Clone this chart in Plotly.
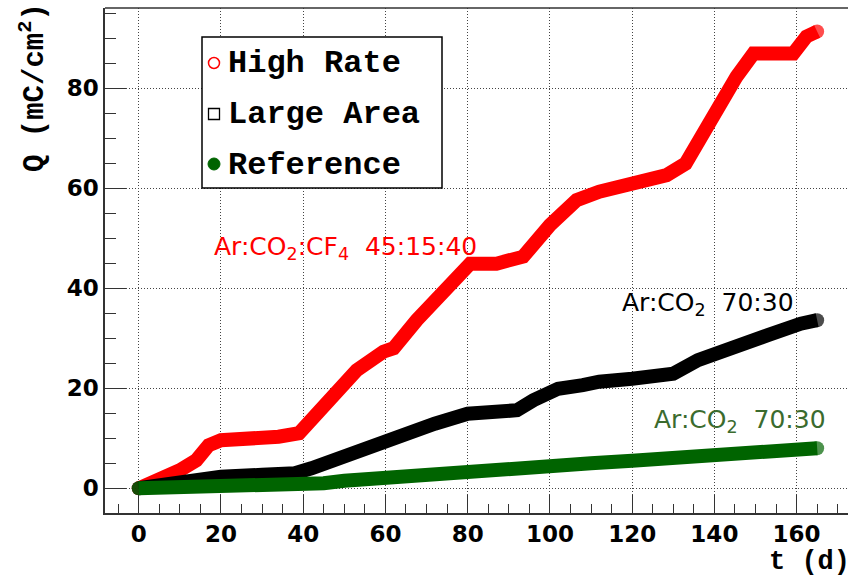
import plotly.graph_objects as go

# ---------------- data ----------------
t_high = [0, 3, 7, 10, 14, 17, 20, 26, 34, 39, 43, 45, 50, 53, 59.5, 62, 67.6, 75.7,
          80.6, 87, 93.5, 100, 106.5, 112, 120, 128.4, 133, 135.7, 139.7, 142.2,
          145.4, 149.5, 159.2, 162.4, 165]
q_high = [0, 1, 2, 3.6, 5.6, 8.6, 9.6, 9.8, 10.3, 11, 14.5, 17, 20.8, 23.6, 27.3, 28,
          33.6, 40.6, 44.9, 44.9, 46.3, 52.6, 57.6, 59.3, 60.9, 62.6, 64.9, 68.9,
          74.9, 77.3, 82.3, 86.9, 86.9, 90.3, 91.3]

t_large = [0, 5, 10, 15, 20, 30, 38, 42, 47, 53, 60, 66, 72, 80, 86, 92, 96, 102,
           108, 112, 120, 130, 136, 145, 153, 161, 165]
q_large = [0, 0.6, 1.4, 2.0, 2.3, 2.7, 3.0, 4.0, 5.6, 7.3, 9.4, 11.0, 12.9, 14.9,
           15.0, 15.6, 17.6, 19.9, 20.6, 21.3, 21.9, 22.9, 25.6, 27.9, 30.6, 32.9, 33.6]

t_ref = [0, 10, 20, 30, 40, 45, 50, 60, 70, 80, 90, 100, 110, 120, 130, 140, 150, 160, 165]
q_ref = [0, 0.1, 0.2, 0.4, 0.6, 1.0, 1.5, 2.2, 2.9, 3.4, 3.9, 4.5, 5.0, 5.5, 6.0,
         6.7, 7.2, 7.6, 8.0]

series_names = ["High Rate", "Large Area", "Reference"]
gas_labels = ["Ar:CO<sub>2</sub>:CF<sub>4</sub>  45:15:40",
              "Ar:CO<sub>2</sub>  70:30",
              "Ar:CO<sub>2</sub>  70:30"]
x_ticks = [0, 20, 40, 60, 80, 100, 120, 140, 160]
y_ticks = [0, 20, 40, 60, 80]

# ---------------- styling / layout ----------------
W, H = 848, 576
L, R, T, B = 105, 0, 8, 63
PW, PH = W - L - R, H - T - B

def px_x(p):
    return (p - L) / PW

def px_y(p):
    return (H - B - p) / PH

RED = "#ff0000"
BLACK = "#000000"
GREEN = "#006400"
GREEN_TXT = "#3b6b2e"
BAND = 14

fig = go.Figure()
for t, q, c, n in [(t_high, q_high, RED, series_names[0]),
                   (t_large, q_large, BLACK, series_names[1]),
                   (t_ref, q_ref, GREEN, series_names[2])]:
    # round end caps: markers only on the first and last points
    sizes = [BAND if i in (0, len(t) - 1) else 0 for i in range(len(t))]
    fig.add_trace(go.Scatter(x=t, y=q, mode="lines+markers", name=n,
                             line=dict(color=c, width=BAND),
                             marker=dict(color=c, size=sizes, line=dict(width=0)),
                             showlegend=False, hoverinfo="skip"))

tickfont = dict(family="DejaVu Sans", size=23, color="black", weight="bold")
grid = dict(showgrid=True, gridcolor="#444", gridwidth=1, griddash="1px,2px")

fig.update_xaxes(range=[-8.2, 172.5], tickvals=x_ticks, ticks="inside", ticklen=18,
                 tickwidth=1.3, tickcolor="#333", showline=True, linecolor="#333",
                 linewidth=1.5, mirror=False, zeroline=False, tickfont=tickfont,
                 minor=dict(dtick=5, tick0=0, ticks="inside", ticklen=9,
                            tickwidth=1.3, tickcolor="#333", showgrid=False),
                 **grid)
fig.update_yaxes(range=[-4.94, 96], tickvals=y_ticks, ticks="inside", ticklen=21,
                 tickwidth=1.3, tickcolor="#333", showline=True, linecolor="#333",
                 linewidth=1.5, mirror=False, zeroline=False, tickfont=tickfont,
                 minor=dict(dtick=5, tick0=0, ticks="inside", ticklen=11,
                            tickwidth=1.3, tickcolor="#333", showgrid=False),
                 **grid)

shapes = [
    # top frame
    dict(type="line", xref="paper", yref="paper", x0=0, x1=1, y0=1, y1=1,
         line=dict(color="#333", width=1.5)),
    # legend box
    dict(type="rect", xref="paper", yref="paper", x0=px_x(202), x1=px_x(442),
         y0=px_y(188), y1=px_y(37), line=dict(color="black", width=1.5),
         fillcolor="white", layer="above"),
]
# legend symbols
leg_y = [63, 114, 164]
leg_sym_x = px_x(214)
shapes.append(dict(type="circle", xref="paper", yref="paper", xsizemode="pixel",
                   ysizemode="pixel", xanchor=leg_sym_x, yanchor=px_y(leg_y[0]),
                   x0=-5.5, x1=5.5, y0=-5.5, y1=5.5, line=dict(color=RED, width=1.5),
                   fillcolor="rgba(0,0,0,0)", layer="above"))
shapes.append(dict(type="rect", xref="paper", yref="paper", xsizemode="pixel",
                   ysizemode="pixel", xanchor=leg_sym_x, yanchor=px_y(leg_y[1]),
                   x0=-5.5, x1=5.5, y0=-5.5, y1=5.5, line=dict(color=BLACK, width=1.3),
                   fillcolor="white", layer="above"))
shapes.append(dict(type="circle", xref="paper", yref="paper", xsizemode="pixel",
                   ysizemode="pixel", xanchor=leg_sym_x, yanchor=px_y(leg_y[2]),
                   x0=-6, x1=6, y0=-6, y1=6, line=dict(color=GREEN, width=1),
                   fillcolor=GREEN, layer="above"))

mono = dict(family="Liberation Mono", size=32, color="black", weight="bold")
annotations = []
for name, yy in zip(series_names, leg_y):
    annotations.append(dict(xref="paper", yref="paper", x=px_x(226), y=px_y(yy + 1),
                            xanchor="left", yanchor="middle", text=name,
                            showarrow=False, font=mono))

# axis titles
annotations.append(dict(xref="paper", yref="paper", x=px_x(33), y=px_y(88),
                        xanchor="center", yanchor="middle", textangle=-90,
                        text="Q (mC/cm<sup>2</sup>)", showarrow=False,
                        font=dict(family="Liberation Mono", size=29, color="black",
                                  weight="bold")))
annotations.append(dict(xref="paper", yref="paper", x=px_x(767), y=px_y(562),
                        xanchor="left", yanchor="middle", text="t (d)",
                        showarrow=False,
                        font=dict(family="Liberation Mono", size=27, color="black",
                                  weight="bold")))

# gas mixture labels
sans = "DejaVu Sans"
annotations.append(dict(x=17.9, y=48.1, xanchor="left", yanchor="middle",
                        text=gas_labels[0], showarrow=False,
                        font=dict(family=sans, size=25, color=RED)))
annotations.append(dict(x=117.1, y=36.8, xanchor="left", yanchor="middle",
                        text=gas_labels[1], showarrow=False,
                        font=dict(family=sans, size=25, color=BLACK)))
annotations.append(dict(x=124.8, y=13.5, xanchor="left", yanchor="middle",
                        text=gas_labels[2], showarrow=False,
                        font=dict(family=sans, size=25, color=GREEN_TXT)))

fig.update_layout(width=W, height=H, margin=dict(l=L, r=R, t=T, b=B, pad=0),
                  plot_bgcolor="white", paper_bgcolor="white",
                  shapes=shapes, annotations=annotations, showlegend=False)

fig.write_html("out.html", config={"displayModeBar": False},
               post_script="document.body.style.margin='0';"
                           "document.body.style.overflow='hidden';")
